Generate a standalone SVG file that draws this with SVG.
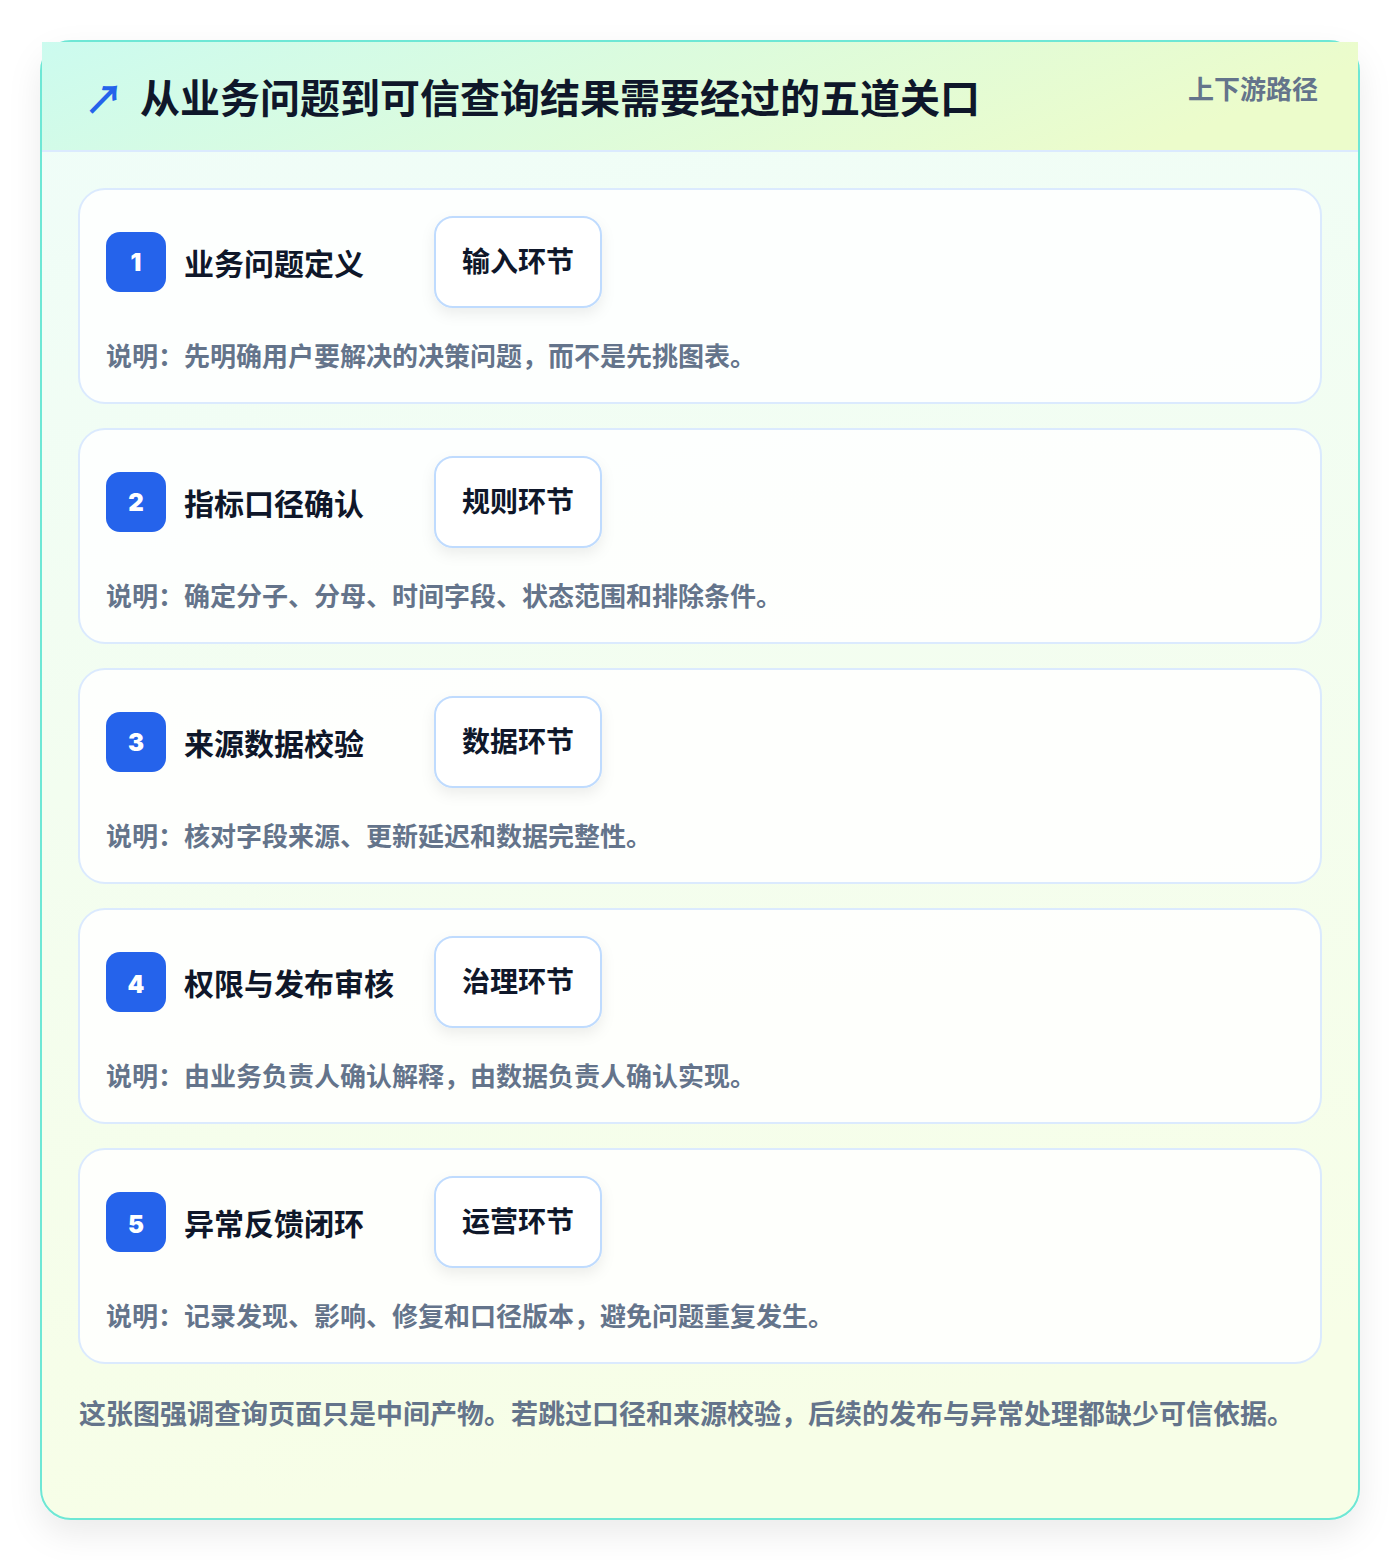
<svg xmlns="http://www.w3.org/2000/svg" width="1400" height="1560" viewBox="0 0 1400 1560">
<defs>
<linearGradient id="hdr" x1="0" y1="0" x2="1" y2="0.2">
<stop offset="0" stop-color="#ccfbef"/>
<stop offset="1" stop-color="#ecfccb"/>
</linearGradient>
<linearGradient id="body" x1="0" y1="0" x2="0.15" y2="1">
<stop offset="0" stop-color="#effdf9"/>
<stop offset="1" stop-color="#f7fee7"/>
</linearGradient>
<filter id="sh" x="-10%" y="-10%" width="120%" height="120%">
<feDropShadow dx="0" dy="14" stdDeviation="16" flood-color="#0f172a" flood-opacity="0.08"/>
</filter>
<filter id="tsh" x="-20%" y="-20%" width="140%" height="160%">
<feDropShadow dx="0" dy="6" stdDeviation="7" flood-color="#0f172a" flood-opacity="0.07"/>
</filter>
</defs>
<style>
text{font-family:"Noto Sans CJK SC","Noto Sans",sans-serif;font-weight:700}
.card{fill:#ffffff;fill-opacity:0.85;stroke:#dbeafe;stroke-width:2}
.badge{fill:#2563eb}
.num{fill:#ffffff;font-size:24px;font-weight:900;text-anchor:middle;font-family:Inter,"Noto Sans",sans-serif}
.ttl{fill:#0f172a;font-size:30px}
.tag{fill:#ffffff;stroke:#bfdbfe;stroke-width:2}
.tagt{fill:#0f172a;font-size:28px;text-anchor:middle}
.desc{fill:#64748b;font-size:26px}
</style>
<rect width="1400" height="1560" fill="#ffffff"/>
<g id="frame">
<rect x="41" y="41" width="1318" height="1478" rx="30" fill="url(#body)" stroke="#6ee7d5" stroke-width="2" filter="url(#sh)"/>
<rect x="42" y="42" width="1316" height="109" fill="url(#hdr)"/>
<line x1="42" y1="151" x2="1358" y2="151" stroke="#dbeafe" stroke-width="2"/>
</g>
<g id="header">
<text x="84" y="114" font-size="40" fill="#2563eb">↗</text>
<text x="140" y="113" font-size="40" fill="#0f172a">从业务问题到可信查询结果需要经过的五道关口</text>
<text x="1318" y="99" font-size="26" fill="#64748b" text-anchor="end">上下游路径</text>
</g>
<g id="step1">
<rect class="card" x="79" y="189" width="1242" height="214" rx="26"/>
<rect class="badge" x="106" y="232" width="60" height="60" rx="14"/>
<text class="num" x="136" y="271">1</text>
<text class="ttl" x="184" y="275">业务问题定义</text>
<rect class="tag" x="435" y="217" width="166" height="90" rx="18" filter="url(#tsh)"/>
<text class="tagt" x="518" y="272">输入环节</text>
<text class="desc" x="106" y="366">说明：先明确用户要解决的决策问题，而不是先挑图表。</text>
</g>
<g id="step2">
<rect class="card" x="79" y="429" width="1242" height="214" rx="26"/>
<rect class="badge" x="106" y="472" width="60" height="60" rx="14"/>
<text class="num" x="136" y="511">2</text>
<text class="ttl" x="184" y="515">指标口径确认</text>
<rect class="tag" x="435" y="457" width="166" height="90" rx="18" filter="url(#tsh)"/>
<text class="tagt" x="518" y="512">规则环节</text>
<text class="desc" x="106" y="606">说明：确定分子、分母、时间字段、状态范围和排除条件。</text>
</g>
<g id="step3">
<rect class="card" x="79" y="669" width="1242" height="214" rx="26"/>
<rect class="badge" x="106" y="712" width="60" height="60" rx="14"/>
<text class="num" x="136" y="751">3</text>
<text class="ttl" x="184" y="755">来源数据校验</text>
<rect class="tag" x="435" y="697" width="166" height="90" rx="18" filter="url(#tsh)"/>
<text class="tagt" x="518" y="752">数据环节</text>
<text class="desc" x="106" y="846">说明：核对字段来源、更新延迟和数据完整性。</text>
</g>
<g id="step4">
<rect class="card" x="79" y="909" width="1242" height="214" rx="26"/>
<rect class="badge" x="106" y="952" width="60" height="60" rx="14"/>
<text class="num" x="136" y="993">4</text>
<text class="ttl" x="184" y="995">权限与发布审核</text>
<rect class="tag" x="435" y="937" width="166" height="90" rx="18" filter="url(#tsh)"/>
<text class="tagt" x="518" y="992">治理环节</text>
<text class="desc" x="106" y="1086">说明：由业务负责人确认解释，由数据负责人确认实现。</text>
</g>
<g id="step5">
<rect class="card" x="79" y="1149" width="1242" height="214" rx="26"/>
<rect class="badge" x="106" y="1192" width="60" height="60" rx="14"/>
<text class="num" x="136" y="1233">5</text>
<text class="ttl" x="184" y="1235">异常反馈闭环</text>
<rect class="tag" x="435" y="1177" width="166" height="90" rx="18" filter="url(#tsh)"/>
<text class="tagt" x="518" y="1232">运营环节</text>
<text class="desc" x="106" y="1326">说明：记录发现、影响、修复和口径版本，避免问题重复发生。</text>
</g>
<g id="connectors"></g>
<g id="footer">
<text x="79" y="1424" font-size="27" fill="#64748b">这张图强调查询页面只是中间产物。若跳过口径和来源校验，后续的发布与异常处理都缺少可信依据。</text>
</g>
</svg>
